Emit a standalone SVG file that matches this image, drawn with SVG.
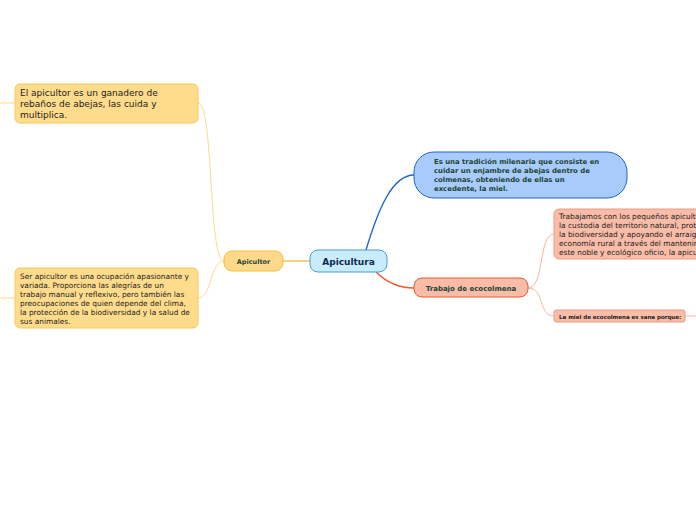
<svg xmlns="http://www.w3.org/2000/svg" width="696" height="520" viewBox="0 0 696 520">
<style>
text{font-family:"DejaVu Sans","Liberation Sans",sans-serif}
.yel{fill:#ffdb8c;stroke:#f8c95a;stroke-width:1}
.sal{fill:#f9bca8;stroke:#f29a7e;stroke-width:1}
.t{fill:#222}
.b{font-weight:bold;fill:#1c4532}
.c{fill:none}
</style>
<rect width="696" height="520" fill="#fff"/>
<g id="connectors" class="c">
<path d="M283,261 L310,261" stroke="#f5b236" stroke-width="1.2"/>
<path d="M224,261 C208,261 214,103 198,103" stroke="#fcd98e" stroke-width="1"/>
<path d="M224,261 C210,261 212,298 198,298" stroke="#fcd98e" stroke-width="1"/>
<path d="M0,103 L15,103" stroke="#fcd98e" stroke-width="1"/>
<path d="M0,298 L15,298" stroke="#fcd98e" stroke-width="1"/>
<path d="M366,250 C378,210 392,175 414,175" stroke="#1f63d0" stroke-width="1.4"/>
<path d="M376,272 C388,284 400,288 414,288" stroke="#f0562a" stroke-width="1.4"/>
<path d="M528,288 C545,288 538,234 554,234" stroke="#f9b4a0" stroke-width="1"/>
<path d="M528,288 C545,288 538,316 554,316" stroke="#f9b4a0" stroke-width="1"/>
<path d="M685,316 L696,316" stroke="#f9b4a0" stroke-width="1"/>
</g>
<g id="apicultura">
<rect x="310" y="250" width="77" height="22" rx="8" fill="#c8ecfc" stroke="#4b9ad6" stroke-width="1"/>
<text x="348.5" y="265" font-size="9" font-weight="bold" fill="#0d2b4e" text-anchor="middle">Apicultura</text>
</g>
<g id="apicultor">
<rect x="224" y="251" width="59" height="20" rx="8" fill="#ffd98a" stroke="#f6bf3c" stroke-width="1"/>
<text x="253.5" y="264" font-size="6.5" class="b" text-anchor="middle">Apicultor</text>
</g>
<g id="ganadero">
<rect x="15" y="84" width="183" height="39" rx="5" class="yel"/>
<text class="t" font-size="9"><tspan x="20" y="96">El apicultor es un ganadero de</tspan><tspan x="20" y="107">rebaños de abejas, las cuida y</tspan><tspan x="20" y="118">multiplica.</tspan></text>
</g>
<g id="ocupacion">
<rect x="15" y="268" width="183" height="60" rx="5" class="yel"/>
<text class="t" font-size="7.4"><tspan x="20" y="279">Ser apicultor es una ocupación apasionante y</tspan><tspan x="20" y="288">variada. Proporciona las alegrías de un</tspan><tspan x="20" y="297">trabajo manual y reflexivo, pero también las</tspan><tspan x="20" y="306">preocupaciones de quien depende del clima,</tspan><tspan x="20" y="315">la protección de la biodiversidad y la salud de</tspan><tspan x="20" y="324">sus animales.</tspan></text>
</g>
<g id="tradicion">
<rect x="414" y="152" width="213" height="46" rx="20" fill="#a8cbfc" stroke="#1f63d0" stroke-width="1"/>
<text class="b" font-size="6.9" fill="#1a3d2e"><tspan x="434" y="164">Es una tradición milenaria que consiste en</tspan><tspan x="434" y="173">cuidar un enjambre de abejas dentro de</tspan><tspan x="434" y="182">colmenas, obteniendo de ellas un</tspan><tspan x="434" y="191">excedente, la miel.</tspan></text>
</g>
<g id="trabajo">
<rect x="414" y="278" width="114" height="19" rx="8" fill="#f9bca8" stroke="#e8582c" stroke-width="1"/>
<text x="471" y="291" font-size="7" class="b" text-anchor="middle">Trabajo de ecocolmena</text>
</g>
<g id="pequenos">
<rect x="554" y="209" width="170" height="50" rx="5" class="sal"/>
<text class="t" font-size="7.4"><tspan x="559" y="219">Trabajamos con los pequeños apicultores en</tspan><tspan x="559" y="228">la custodia del territorio natural, protegiendo</tspan><tspan x="559" y="237">la biodiversidad y apoyando el arraigo de la</tspan><tspan x="559" y="246">economía rural a través del mantenimiento de</tspan><tspan x="559" y="255">este noble y ecológico oficio, la apicultura.</tspan></text>
</g>
<g id="sana">
<rect x="554" y="310" width="131" height="12" rx="2" class="sal"/>
<text x="559" y="318.5" font-size="5.5" font-weight="bold" fill="#222">La miel de ecocolmena es sana porque:</text>
</g>
</svg>
